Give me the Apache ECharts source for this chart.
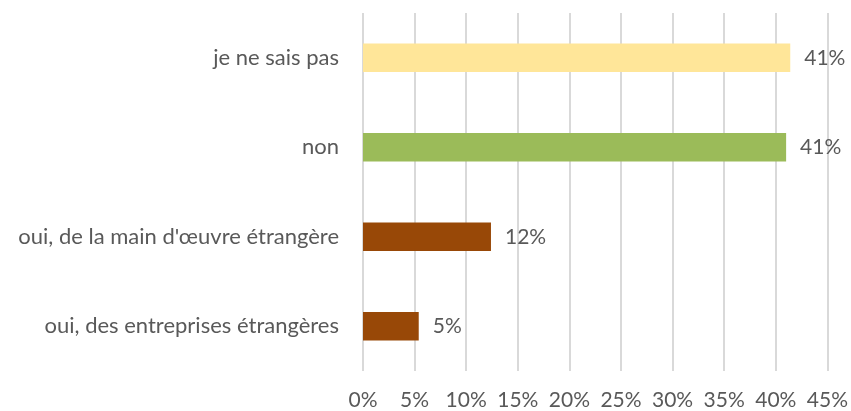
<!DOCTYPE html>
<html>
<head>
<meta charset="utf-8">
<script src="https://cdn.jsdelivr.net/npm/echarts@6/dist/echarts.min.js"></script>
<style>
  html, body { margin: 0; padding: 0; background: #fff; }
  #chart { width: 851px; height: 411px; }
</style>
</head>
<body>
<div id="chart"></div>
<script>
// categories bottom to top (ECharts category axis runs upward on y)
const categories = [
  'oui, des entreprises étrangères',
  "oui, de la main d'œuvre étrangère",
  'non',
  'je ne sais pas'
];
const values = [5.4, 12.4, 41.0, 41.4];
const barColors = ['#984807', '#984807', '#9BBB59', '#FFE699'];
const tickLabels = ['0%', '5%', '10%', '15%', '20%', '25%', '30%', '35%', '40%', '45%'];

const textColor = '#595959';
const font = 'Lato';

const chart = echarts.init(document.getElementById('chart'));
chart.setOption({
  animation: false,
  grid: { left: 363, right: 22, top: 13, bottom: 39 },
  xAxis: {
    type: 'value',
    min: 0,
    max: 45,
    interval: 5,
    axisLine: { show: false },
    axisTick: { show: false },
    splitLine: { lineStyle: { color: '#d9d9d9', width: 2 } },
    axisLabel: {
      color: textColor,
      fontFamily: font,
      fontSize: 21,
      margin: 19,
      formatter: function(v) { return tickLabels[Math.round(v / 5)]; }
    }
  },
  yAxis: {
    type: 'category',
    data: categories,
    axisLine: { show: false },
    axisTick: { show: false },
    axisLabel: {
      color: textColor,
      fontFamily: font,
      fontSize: 22,
      margin: 24
    }
  },
  series: [{
    type: 'bar',
    data: values.map((v, i) => ({ value: v, itemStyle: { color: barColors[i] } })),
    barWidth: '32%',
    label: {
      show: true,
      position: 'right',
      distance: 14,
      color: textColor,
      fontFamily: font,
      fontSize: 21,
      formatter: function(p) { return Math.round(p.value) + '%'; }
    }
  }]
});
</script>
</body>
</html>
